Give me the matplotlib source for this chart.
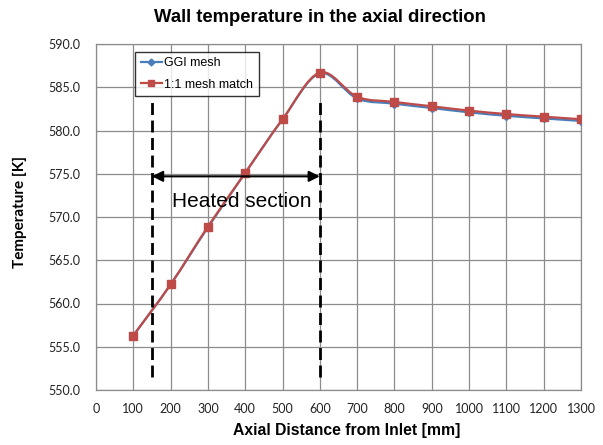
import numpy as np
import matplotlib
matplotlib.use("Agg")
import matplotlib.pyplot as plt
from matplotlib.path import Path
from matplotlib.patches import PathPatch
from matplotlib.lines import Line2D

# ---- data ----
distance_mm = [100, 200, 300, 400, 500, 600, 700, 800, 900, 1000, 1100, 1200, 1300]
ggi_mesh = [556.3, 562.2, 568.8, 575.1, 581.3, 586.6, 583.7, 583.1, 582.6, 582.1, 581.7, 581.4, 581.1]
mesh_match = [556.3, 562.2, 568.9, 575.1, 581.3, 586.7, 583.9, 583.3, 582.8, 582.3, 581.9, 581.6, 581.3]
series_names = ["GGI mesh", "1:1 mesh match"]
heated_start, heated_end = 150, 600
yticks = [550, 555, 560, 565, 570, 575, 580, 585, 590]
xticks = list(range(0, 1400, 100))

BLUE = "#4a7ebb"
RED = "#be4b48"
GRID = "#8c8c8c"

fig = plt.figure(figsize=(6.03, 4.45), dpi=100)
ax = fig.add_axes([96 / 603, 1 - 390 / 445, 485 / 603, 346 / 445])


def smooth_path(x, y):
    x = np.asarray(x, float)
    y = np.asarray(y, float)
    n = len(x)
    verts = [(x[0], y[0])]
    codes = [Path.MOVETO]
    for i in range(n - 1):
        i0 = max(i - 1, 0)
        i3 = min(i + 2, n - 1)
        c1 = (x[i] + (x[i + 1] - x[i0]) / 6, y[i] + (y[i + 1] - y[i0]) / 6)
        c2 = (x[i + 1] - (x[i3] - x[i]) / 6, y[i + 1] - (y[i3] - y[i]) / 6)
        verts += [c1, c2, (x[i + 1], y[i + 1])]
        codes += [Path.CURVE4] * 3
    return Path(verts, codes)


ax.add_patch(PathPatch(smooth_path(distance_mm, ggi_mesh), fill=False, edgecolor=BLUE, lw=1.6, zorder=3))
ax.plot(distance_mm, ggi_mesh, linestyle="none", marker="D", ms=4, color=BLUE, zorder=3)
ax.add_patch(PathPatch(smooth_path(distance_mm, mesh_match), fill=False, edgecolor=RED, lw=1.6, zorder=4))
ax.plot(distance_mm, mesh_match, linestyle="none", marker="s", ms=5.5, color=RED, zorder=4)

ax.set_xlim(0, 1300)
ax.set_ylim(550, 590)
ax.set_xticks(xticks)
ax.set_yticks(yticks)
ax.set_yticklabels([f"{v:.1f}" for v in yticks])
ax.grid(True, color=GRID, lw=0.9)
ax.set_axisbelow(True)
for s in ax.spines.values():
    s.set_color(GRID)
    s.set_linewidth(0.9)
ax.tick_params(length=0, labelsize=9, colors="#222222")
ax.tick_params(axis="y", pad=11.5)
ax.tick_params(axis="x", pad=9.5)
for lab in ax.get_xticklabels() + ax.get_yticklabels():
    lab.set_family("Lato")

# heated section markers
for xv in (heated_start, heated_end):
    ax.plot([xv, xv], [551.5, 583.8], color="black", lw=2, linestyle=(0, (4.3, 2.0)), zorder=5)
ax.annotate("", xy=(heated_start, 574.7), xytext=(heated_end, 574.7),
            arrowprops=dict(arrowstyle="<|-|>", color="black", lw=1.5,
                            mutation_scale=16, shrinkA=0, shrinkB=0), zorder=5)
ax.text(391, 571.8, "Heated section", ha="center", va="center",
        fontsize=15, family="Liberation Sans", zorder=6)

handles = [Line2D([], [], color=BLUE, lw=1.6, marker="D", ms=3.5),
           Line2D([], [], color=RED, lw=1.6, marker="s", ms=5)]
leg = ax.legend(handles, series_names, loc="upper left",
                bbox_to_anchor=(135 / 603, 1 - 51.5 / 445), bbox_transform=fig.transFigure,
                prop={"family": "Liberation Sans", "size": 9}, frameon=True, fancybox=False,
                handlelength=1.7, handletextpad=0.2, borderpad=0.45, labelspacing=0.75,
                borderaxespad=0)
leg.get_frame().set_edgecolor("black")
leg.get_frame().set_linewidth(1.0)
leg.set_zorder(10)

fig.text(320 / 603, 1 - 18 / 445, "Wall temperature in the axial direction", ha="center", va="center",
         fontsize=13.3, fontweight="bold", family="Liberation Sans")
fig.text(347 / 603, 1 - 430 / 445, "Axial Distance from Inlet [mm]", ha="center", va="center",
         fontsize=11.3, fontweight="bold", family="Liberation Sans")
fig.text(20 / 603, 1 - 212 / 445, "Temperature [K]", ha="center", va="center", rotation=90,
         fontsize=11, fontweight="bold", family="Lato")

fig.savefig("out.png", dpi=100)
